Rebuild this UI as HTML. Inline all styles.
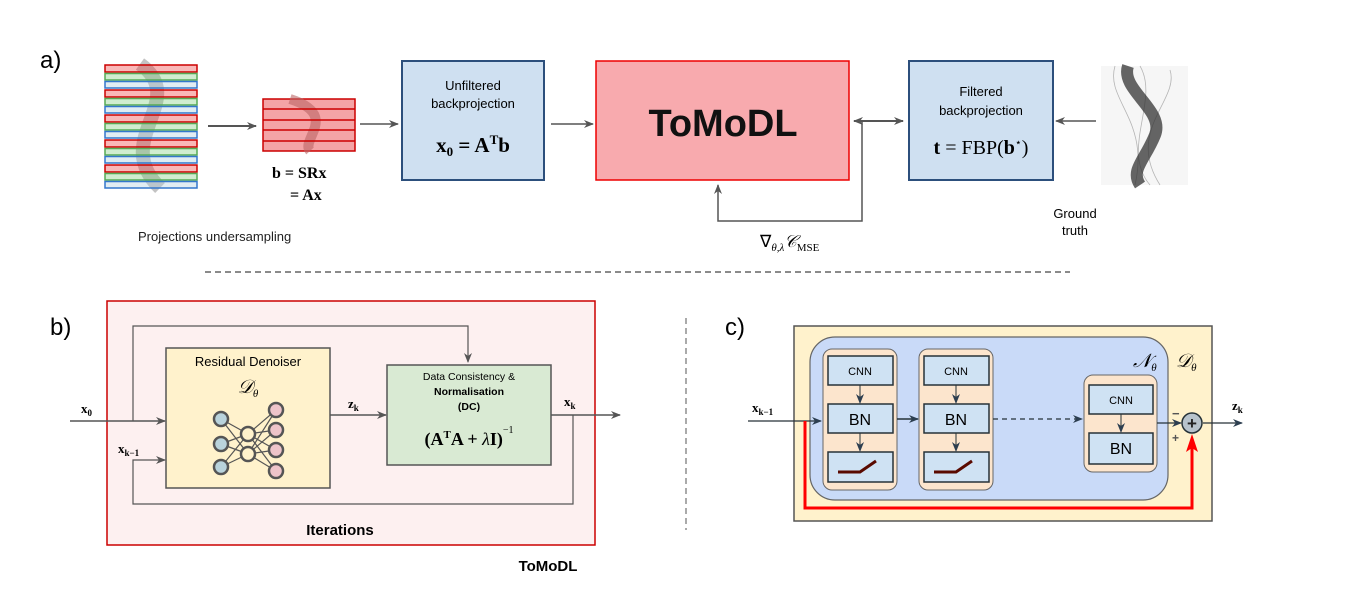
<!DOCTYPE html>
<html><head><meta charset="utf-8"><style>
html,body{margin:0;padding:0;background:#fff;}
svg{display:block;font-family:"Liberation Sans",sans-serif;}
.m{font-family:"Liberation Serif",serif;font-weight:bold;}
</style></head><body>
<svg width="1357" height="590" viewBox="0 0 1357 590" xmlns="http://www.w3.org/2000/svg">
<defs>
<marker id="ah" markerWidth="10" markerHeight="8" refX="9" refY="4" orient="auto" markerUnits="userSpaceOnUse"><path d="M0,0 L10,4 L0,8 L3,4z" fill="#555"/></marker>
<marker id="ahd" markerWidth="10" markerHeight="8" refX="9" refY="4" orient="auto" markerUnits="userSpaceOnUse"><path d="M0,0 L10,4 L0,8 L3,4z" fill="#2c3e50"/></marker>
<marker id="ahs" markerWidth="10" markerHeight="8" refX="1" refY="4" orient="auto" markerUnits="userSpaceOnUse"><path d="M10,0 L0,4 L10,8 L7,4z" fill="#555"/></marker>
</defs>

<!-- a) -->
<text x="40" y="68" font-size="24">a)</text>
<g stroke-width="1.5">
<path d="M140,64 C190,100 110,140 160,188" stroke="#888" stroke-width="14" fill="none" opacity="0.5"/>
<g fill-opacity="0.35">
<rect x="105" y="65" width="92" height="7" fill="#e33" stroke="#c00"/>
<rect x="105" y="73.5" width="92" height="6.5" fill="#7c7" stroke="#5a5"/>
<rect x="105" y="81.5" width="92" height="6.5" fill="#acd" stroke="#37c"/>
<rect x="105" y="90" width="92" height="7" fill="#e33" stroke="#c00"/>
<rect x="105" y="98.5" width="92" height="6.5" fill="#7c7" stroke="#5a5"/>
<rect x="105" y="106.5" width="92" height="6.5" fill="#acd" stroke="#37c"/>
<rect x="105" y="115" width="92" height="7" fill="#e33" stroke="#c00"/>
<rect x="105" y="123.5" width="92" height="6.5" fill="#7c7" stroke="#5a5"/>
<rect x="105" y="131.5" width="92" height="6.5" fill="#acd" stroke="#37c"/>
<rect x="105" y="140" width="92" height="7" fill="#e33" stroke="#c00"/>
<rect x="105" y="148.5" width="92" height="6.5" fill="#7c7" stroke="#5a5"/>
<rect x="105" y="156.5" width="92" height="6.5" fill="#acd" stroke="#37c"/>
<rect x="105" y="165" width="92" height="7" fill="#e33" stroke="#c00"/>
<rect x="105" y="173.5" width="92" height="6.5" fill="#7c7" stroke="#5a5"/>
<rect x="105" y="181.5" width="92" height="6.5" fill="#acd" stroke="#37c"/>
</g></g>
<line x1="208" y1="126" x2="256" y2="126" stroke="#555" stroke-width="2" marker-end="url(#ah)"/>
<rect x="263" y="99" width="92" height="52" fill="#f4a4a6" stroke="#c00" stroke-width="1.5"/>
<path d="M290,99 C340,115 300,140 310,151" stroke="#b66" stroke-width="10" fill="none" opacity="0.6"/>
<g stroke="#c00" stroke-width="1.5"><line x1="263" y1="109" x2="355" y2="109"/><line x1="263" y1="120" x2="355" y2="120"/><line x1="263" y1="130" x2="355" y2="130"/><line x1="263" y1="141" x2="355" y2="141"/></g>
<text x="272" y="178" class="m" font-size="16">b = SRx</text>
<text x="290" y="200" class="m" font-size="16">= Ax</text>
<text x="138" y="241" font-size="13" fill="#222">Projections undersampling</text>
<line x1="360" y1="124" x2="398" y2="124" stroke="#555" stroke-width="1.5" marker-end="url(#ah)"/>
<rect x="402" y="61" width="142" height="119" fill="#cfe0f1" stroke="#2c4f7c" stroke-width="2"/>
<text x="473" y="90" font-size="13" text-anchor="middle">Unfiltered</text>
<text x="473" y="108" font-size="13" text-anchor="middle">backprojection</text>
<text x="473" y="152" class="m" font-size="21" text-anchor="middle">x<tspan font-size="13" dy="4">0</tspan><tspan dy="-4"> = A</tspan><tspan font-size="13" dy="-8">T</tspan><tspan dy="8">b</tspan></text>
<line x1="551" y1="124" x2="593" y2="124" stroke="#555" stroke-width="1.5" marker-end="url(#ah)"/>
<rect x="596" y="61" width="253" height="119" fill="#f8aaae" stroke="#e00" stroke-width="1.5"/>
<text x="723" y="136" font-size="38" font-weight="bold" text-anchor="middle" fill="#111">ToMoDL</text>
<line x1="854" y1="121" x2="903" y2="121" stroke="#555" stroke-width="2" marker-start="url(#ahs)" marker-end="url(#ah)"/>
<polyline points="862,121 862,221 718,221 718,185" fill="none" stroke="#555" stroke-width="1.5" marker-end="url(#ah)"/>
<text x="760" y="247" font-family="Liberation Serif,serif" font-size="17">∇<tspan font-size="11" dy="4" font-style="italic">θ,λ</tspan><tspan dy="-4" font-style="italic">𝒞</tspan><tspan font-size="11" dy="4">MSE</tspan></text>
<rect x="909" y="61" width="144" height="119" fill="#cfe0f1" stroke="#2c4f7c" stroke-width="2"/>
<text x="981" y="96" font-size="13" text-anchor="middle">Filtered</text>
<text x="981" y="115" font-size="13" text-anchor="middle">backprojection</text>
<text x="981" y="154" font-family="Liberation Serif,serif" font-size="20" text-anchor="middle"><tspan font-weight="bold">t</tspan> = FBP(<tspan font-weight="bold">b</tspan><tspan font-size="11" dy="-8">⋆</tspan><tspan dy="8">)</tspan></text>
<line x1="1096" y1="121" x2="1056" y2="121" stroke="#555" stroke-width="1.5" marker-end="url(#ah)"/>
<rect x="1101" y="66" width="87" height="119" fill="#f6f6f6"/>
<g fill="none" stroke="#999" stroke-width="0.8" opacity="0.7">
<path d="M1115,66 C1105,100 1150,120 1135,185"/><path d="M1170,70 C1180,100 1125,130 1160,185"/><path d="M1140,66 C1160,100 1120,150 1150,185"/>
</g>
<path d="M1128,66 C1120,90 1165,110 1155,135 C1145,160 1130,170 1140,185" stroke="#333" stroke-width="12" fill="none" opacity="0.75"/>
<text x="1075" y="218" font-size="13" text-anchor="middle">Ground</text>
<text x="1075" y="235" font-size="13" text-anchor="middle">truth</text>
<line x1="205" y1="272" x2="1070" y2="272" stroke="#444" stroke-width="1.2" stroke-dasharray="6,4"/>

<!-- b) -->
<text x="50" y="335" font-size="24">b)</text>
<rect x="107" y="301" width="488" height="244" fill="#fdf0f0" stroke="#c00" stroke-width="1.5"/>
<text x="548" y="571" font-size="15" font-weight="bold" text-anchor="middle">ToMoDL</text>
<polyline points="133,421 133,326 468,326 468,362" fill="none" stroke="#555" stroke-width="1.2" marker-end="url(#ah)"/>
<line x1="70" y1="421" x2="165" y2="421" stroke="#555" stroke-width="1.5" marker-end="url(#ah)"/>
<polyline points="573,415 573,504 133,504 133,460 165,460" fill="none" stroke="#555" stroke-width="1.2" marker-end="url(#ah)"/>
<text x="81" y="413" class="m" font-size="13">x<tspan font-size="9" dy="3">0</tspan></text>
<text x="118" y="453" class="m" font-size="13">x<tspan font-size="9" dy="3">k−1</tspan></text>
<rect x="166" y="348" width="164" height="140" fill="#fff2cc" stroke="#555" stroke-width="1.5"/>
<text x="248" y="366" font-size="13" text-anchor="middle">Residual Denoiser</text>
<text x="248" y="393" font-family="Liberation Serif,serif" font-style="italic" font-size="19" text-anchor="middle">𝒟<tspan font-size="11" dy="4">θ</tspan></text>
<g stroke="#555" stroke-width="1.2">
<line x1="221" y1="419" x2="248" y2="434"/><line x1="221" y1="419" x2="248" y2="454"/>
<line x1="221" y1="444" x2="248" y2="434"/><line x1="221" y1="444" x2="248" y2="454"/>
<line x1="221" y1="467" x2="248" y2="434"/><line x1="221" y1="467" x2="248" y2="454"/>
<line x1="248" y1="434" x2="276" y2="410"/><line x1="248" y1="434" x2="276" y2="430"/><line x1="248" y1="434" x2="276" y2="450"/><line x1="248" y1="434" x2="276" y2="471"/>
<line x1="248" y1="454" x2="276" y2="410"/><line x1="248" y1="454" x2="276" y2="430"/><line x1="248" y1="454" x2="276" y2="450"/><line x1="248" y1="454" x2="276" y2="471"/>
</g>
<g stroke="#555" stroke-width="2.5">
<circle cx="221" cy="419" r="7" fill="#b9d3dc"/><circle cx="221" cy="444" r="7" fill="#b9d3dc"/><circle cx="221" cy="467" r="7" fill="#b9d3dc"/>
<circle cx="248" cy="434" r="7" fill="#fff2cc"/><circle cx="248" cy="454" r="7" fill="#fff2cc"/>
<circle cx="276" cy="410" r="7" fill="#eec4ca"/><circle cx="276" cy="430" r="7" fill="#eec4ca"/><circle cx="276" cy="450" r="7" fill="#eec4ca"/><circle cx="276" cy="471" r="7" fill="#eec4ca"/>
</g>
<line x1="330" y1="415" x2="386" y2="415" stroke="#555" stroke-width="1.5" marker-end="url(#ah)"/>
<text x="348" y="408" class="m" font-size="13">z<tspan font-size="9" dy="3">k</tspan></text>
<rect x="387" y="365" width="164" height="100" fill="#d9ead3" stroke="#555" stroke-width="1.5"/>
<text x="469" y="380" font-size="10.5" text-anchor="middle">Data Consistency &amp;</text>
<text x="469" y="395" font-size="10.5" font-weight="bold" text-anchor="middle">Normalisation</text>
<text x="469" y="410" font-size="10.5" font-weight="bold" text-anchor="middle">(DC)</text>
<text x="469" y="445" class="m" font-size="18" text-anchor="middle">(A<tspan font-size="11" dy="-7">T</tspan><tspan dy="7">A + </tspan><tspan font-style="italic" font-weight="normal">λ</tspan>I)<tspan font-size="10" dy="-12" font-weight="normal">−1</tspan></text>
<line x1="551" y1="415" x2="620" y2="415" stroke="#555" stroke-width="1.5" marker-end="url(#ah)"/>
<text x="564" y="406" class="m" font-size="13">x<tspan font-size="9" dy="3">k</tspan></text>
<text x="340" y="535" font-size="15" font-weight="bold" text-anchor="middle">Iterations</text>

<!-- c) -->
<line x1="686" y1="318" x2="686" y2="530" stroke="#555" stroke-width="1" stroke-dasharray="6,4"/>
<text x="725" y="335" font-size="24">c)</text>
<rect x="794" y="326" width="418" height="195" fill="#fff2cc" stroke="#555" stroke-width="1.5"/>
<rect x="810" y="337" width="358" height="163" rx="25" fill="#c9daf8" stroke="#666" stroke-width="1.2"/>
<text x="1133" y="367" font-family="Liberation Serif,serif" font-style="italic" font-size="19">𝒩<tspan font-size="11" dy="4">θ</tspan></text>
<text x="1176" y="367" font-family="Liberation Serif,serif" font-style="italic" font-size="19">𝒟<tspan font-size="11" dy="4">θ</tspan></text>
<g>
<rect x="823" y="349" width="74" height="141" rx="9" fill="#fce5cd" stroke="#666"/>
<rect x="828" y="356" width="65" height="29" fill="#cfe2f3" stroke="#263238" stroke-width="1.5"/>
<rect x="828" y="404" width="65" height="29" fill="#cfe2f3" stroke="#263238" stroke-width="1.5"/>
<rect x="828" y="452" width="65" height="30" fill="#cfe2f3" stroke="#263238" stroke-width="1.5"/>
<text x="860" y="375" font-size="11" text-anchor="middle">CNN</text>
<text x="860" y="425" font-size="16" text-anchor="middle">BN</text>
<polyline points="838,472 860,472 876,461" fill="none" stroke="#5a0a00" stroke-width="3"/>
<line x1="860" y1="385" x2="860" y2="403" stroke="#263238" marker-end="url(#ahd)"/>
<line x1="860" y1="433" x2="860" y2="451" stroke="#263238" marker-end="url(#ahd)"/>
</g>
<g transform="translate(96,0)">
<rect x="823" y="349" width="74" height="141" rx="9" fill="#fce5cd" stroke="#666"/>
<rect x="828" y="356" width="65" height="29" fill="#cfe2f3" stroke="#263238" stroke-width="1.5"/>
<rect x="828" y="404" width="65" height="29" fill="#cfe2f3" stroke="#263238" stroke-width="1.5"/>
<rect x="828" y="452" width="65" height="30" fill="#cfe2f3" stroke="#263238" stroke-width="1.5"/>
<text x="860" y="375" font-size="11" text-anchor="middle">CNN</text>
<text x="860" y="425" font-size="16" text-anchor="middle">BN</text>
<polyline points="838,472 860,472 876,461" fill="none" stroke="#5a0a00" stroke-width="3"/>
<line x1="860" y1="385" x2="860" y2="403" stroke="#263238" marker-end="url(#ahd)"/>
<line x1="860" y1="433" x2="860" y2="451" stroke="#263238" marker-end="url(#ahd)"/>
</g>
<rect x="1084" y="375" width="73" height="97" rx="9" fill="#fce5cd" stroke="#666"/>
<rect x="1089" y="385" width="64" height="29" fill="#cfe2f3" stroke="#263238" stroke-width="1.5"/>
<rect x="1089" y="433" width="64" height="31" fill="#cfe2f3" stroke="#263238" stroke-width="1.5"/>
<text x="1121" y="404" font-size="11" text-anchor="middle">CNN</text>
<text x="1121" y="454" font-size="16" text-anchor="middle">BN</text>
<line x1="1121" y1="414" x2="1121" y2="432" stroke="#263238" marker-end="url(#ahd)"/>
<line x1="897" y1="419" x2="918" y2="419" stroke="#263238" stroke-width="1.5" marker-end="url(#ahd)"/>
<line x1="993" y1="419" x2="1082" y2="419" stroke="#263238" stroke-width="1.2" stroke-dasharray="5,4" marker-end="url(#ahd)"/>
<line x1="748" y1="421" x2="821" y2="421" stroke="#263238" stroke-width="1.2" marker-end="url(#ahd)"/>
<text x="752" y="412" class="m" font-size="13">x<tspan font-size="9" dy="3">k−1</tspan></text>
<line x1="1157" y1="423" x2="1181" y2="423" stroke="#263238" stroke-width="1.2" marker-end="url(#ahd)"/>
<polyline points="805,421 805,508 1192,508 1192,446" fill="none" stroke="#f00" stroke-width="3"/>
<path d="M1186,452 L1192,434 L1198,452 L1192,448z" fill="#f00"/>
<circle cx="1192" cy="423" r="10" fill="#b7c3cc" stroke="#263238" stroke-width="1.5"/>
<text x="1192" y="429" font-size="17" font-weight="bold" text-anchor="middle" fill="#222">+</text>
<text x="1172" y="418" font-size="13" font-weight="bold" fill="#555">−</text>
<text x="1172" y="442" font-size="12" font-weight="bold" fill="#555">+</text>
<line x1="1203" y1="423" x2="1242" y2="423" stroke="#263238" stroke-width="1.2" marker-end="url(#ahd)"/>
<text x="1232" y="410" class="m" font-size="13">z<tspan font-size="9" dy="3">k</tspan></text>
</svg>
</body></html>
